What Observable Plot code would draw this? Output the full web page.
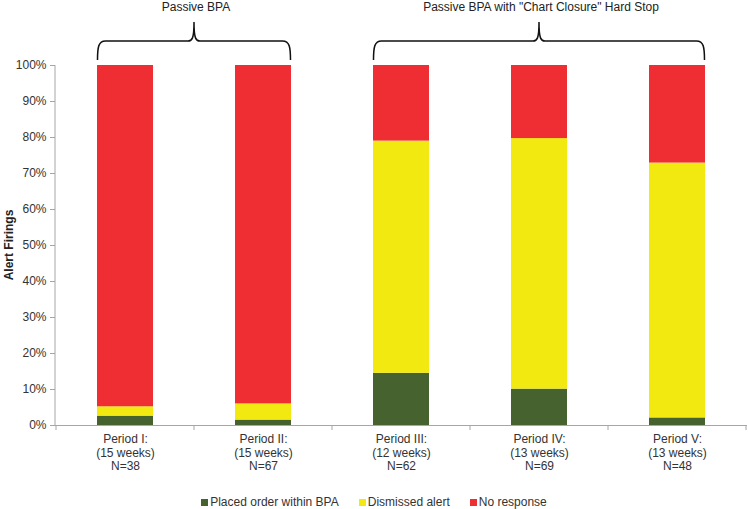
<!DOCTYPE html>
<html><head><meta charset="utf-8">
<script src="https://cdn.jsdelivr.net/npm/d3@7"></script>
<script src="https://cdn.jsdelivr.net/npm/@observablehq/plot@0.6"></script>
<style>
body{margin:0;background:#fff;font-family:"Liberation Sans",Arial,sans-serif;}
#chart{width:748px;}
#legend{display:flex;justify-content:center;align-items:center;height:14px;padding-top:5px;font-size:12px;color:#333;width:748px;}
#legend .item{display:flex;align-items:center;margin:0 10px;}
#legend .sw{width:7px;height:7px;margin-right:2px;}
</style></head><body><div id="chart"></div><div id="legend"></div><script>
const periods = ["Period I:", "Period II:", "Period III:", "Period IV:", "Period V:"];
const weeks = ["(15 weeks)", "(15 weeks)", "(12 weeks)", "(13 weeks)", "(13 weeks)"];
const counts = [38, 67, 62, 69, 48];
const seriesNames = ["Placed order within BPA", "Dismissed alert", "No response"];
const seriesColors = ["#46622f", "#f1e910", "#ee2e33"];
const placed = [2.6, 1.5, 14.5, 10.1, 2.1];
const dismissed = [2.6, 4.5, 64.5, 69.6, 70.8];
const noResponse = [94.8, 94.0, 21.0, 20.3, 27.1];
const yTicks = [0, 10, 20, 30, 40, 50, 60, 70, 80, 90, 100];
const groupLabels = ["Passive BPA", 'Passive BPA with "Chart Closure" Hard Stop'];
const groupFirst = [0, 2];
const groupLast = [1, 4];

const rows = [];
[placed, dismissed, noResponse].forEach((arr, s) =>
  arr.forEach((v, i) => rows.push({period: periods[i], series: seriesNames[s], value: v})));

const chart = Plot.plot({
  width: 748, height: 490,
  marginLeft: 55, marginRight: 1, marginTop: 65, marginBottom: 65,
  style: {fontFamily: "'Liberation Sans', Arial, sans-serif", fontSize: "12px", background: "#fff", color: "#333"},
  x: {domain: periods, paddingInner: 0.596, paddingOuter: 0.298},
  y: {domain: [0, 100]},
  color: {domain: seriesNames, range: seriesColors},
  marks: [
    Plot.barY(rows, {x: "period", y: "value", fill: "series"}),
    Plot.ruleY([0], {stroke: "#a6a6a6"}),
    Plot.axisY({ticks: yTicks, tickFormat: d => d + "%", tickSize: 5, tickPadding: 4,
      stroke: "#a6a6a6", fill: "#333", label: null}),
    Plot.axisX({tickSize: 0, tickPadding: 8, lineHeight: 1.13, fill: "#333", label: null,
      tickFormat: d => { const i = periods.indexOf(d); return `${d}\n${weeks[i]}\nN=${counts[i]}`; }})
  ]
});
document.getElementById("chart").appendChild(chart);

const svg = d3.select(chart);
const xs = chart.scale("x"), ys = chart.scale("y");
const bw = xs.bandwidth;
const step = xs.step || bw / (1 - 0.596);
const gap = step - bw;
const y0 = ys.apply(0), y100 = ys.apply(100);
const xLeft = xs.range[0];
// y axis line
svg.append("line").attr("x1", xLeft).attr("x2", xLeft).attr("y1", y100).attr("y2", y0)
  .attr("stroke", "#a6a6a6");
// category boundary ticks
const bounds = periods.map(p => xs.apply(p) - gap / 2);
bounds.push(xs.apply(periods[periods.length - 1]) + bw + gap / 2);
bounds.forEach(b => svg.append("line").attr("x1", b).attr("x2", b).attr("y1", y0).attr("y2", y0 + 5)
  .attr("stroke", "#a6a6a6"));
// Y title
svg.append("text").attr("transform", `translate(13,${(y0 + y100) / 2}) rotate(-90)`)
  .attr("text-anchor", "middle").attr("font-weight", "bold").attr("font-size", 12)
  .attr("fill", "#222").text("Alert Firings");
// group braces
groupLabels.forEach((lab, g) => {
  const x0 = xs.apply(periods[groupFirst[g]]) + 0.5;
  const x1 = xs.apply(periods[groupLast[g]]) + bw - 0.5;
  const cx = (x0 + x1) / 2;
  const yb = 60, yh = 41, yt = 22;
  const d = `M${x0},${yb} C${x0},${yh + 6} ${x0 + 1},${yh} ${x0 + 8},${yh} L${cx - 6},${yh} C${cx - 2},${yh} ${cx},${yh - 2} ${cx},${yt}`
    + ` C${cx},${yh - 2} ${cx + 2},${yh} ${cx + 6},${yh} L${x1 - 8},${yh} C${x1 - 1},${yh} ${x1},${yh + 6} ${x1},${yb}`;
  svg.append("path").attr("d", d).attr("fill", "none").attr("stroke", "#111").attr("stroke-width", 1.5);
  svg.append("text").attr("x", cx + 2).attr("y", 11).attr("text-anchor", "middle")
    .attr("font-size", 12).attr("fill", "#222").text(lab);
});
// legend
const lg = d3.select("#legend");
seriesNames.forEach((n, i) => {
  const it = lg.append("div").attr("class", "item");
  it.append("div").attr("class", "sw").style("background", seriesColors[i]);
  it.append("span").text(n);
});
</script></body></html>
